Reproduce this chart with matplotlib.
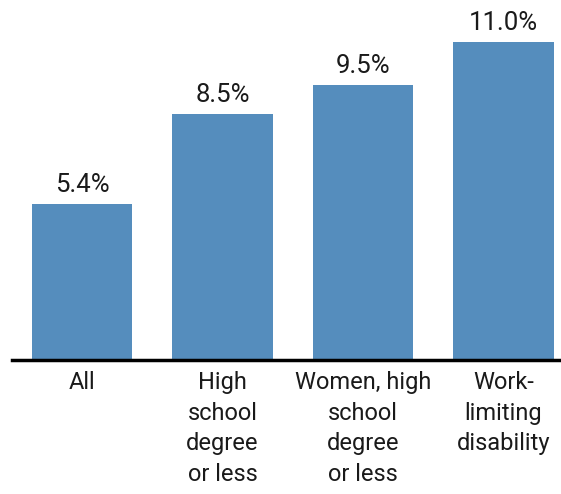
import matplotlib
matplotlib.use('Agg')
import matplotlib.pyplot as plt

# data
categories = ['All', 'High\nschool\ndegree\nor less', 'Women, high\nschool\ndegree\nor less', 'Work-\nlimiting\ndisability']
values = [5.4, 8.5, 9.5, 11.0]
value_labels = ['5.4%', '8.5%', '9.5%', '11.0%']

plt.rcParams['font.family'] = ['Roboto', 'DejaVu Sans']

fig = plt.figure(figsize=(5.61, 4.94), dpi=100)
ax = fig.add_axes([12 / 561, (494 - 360) / 494, 549 / 561, 360 / 494])

x = list(range(len(values)))
ax.bar(x, values, width=0.712, color='#558dbd')
ax.set_xlim(-70 / 140.5, (561 - 82) / 140.5)
ax.set_ylim(0, 11.0 * 360 / 318)

for xi, v, lab in zip(x, values, value_labels):
    ax.annotate(lab, (xi, v), xytext=(0, 5), textcoords='offset points',
                ha='center', va='bottom', fontsize=18.5, color='#1a1a1a')

for xi, cat in zip(x, categories):
    ax.annotate(cat, (xi, 0), xytext=(0, -8), textcoords='offset points',
                ha='center', va='top', fontsize=17, color='#1a1a1a',
                linespacing=1.42)

for s in ['top', 'right', 'left']:
    ax.spines[s].set_visible(False)
ax.spines['bottom'].set_linewidth(2.5)
ax.spines['bottom'].set_color('black')
ax.set_xticks([])
ax.set_yticks([])

fig.savefig('out.png', dpi=100)
